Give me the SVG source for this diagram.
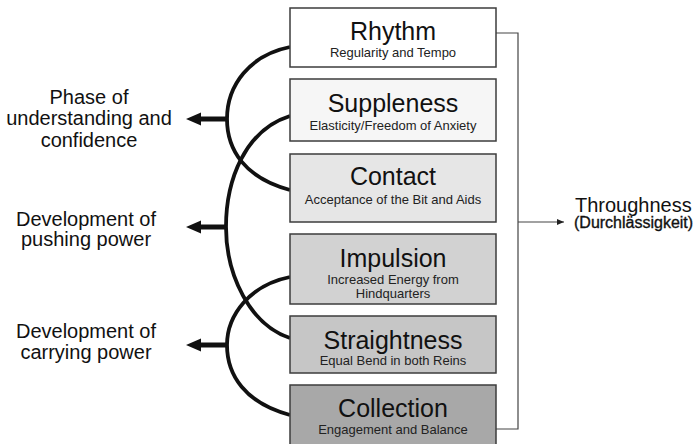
<svg xmlns="http://www.w3.org/2000/svg" width="697" height="444" viewBox="0 0 697 444">
<defs>
<style>
.box{stroke:#3c3c3c;stroke-width:1.5}
.t{font-family:"Liberation Sans",Arial,sans-serif;font-size:25px;fill:#111;text-anchor:middle}
.s{font-family:"Liberation Sans",Arial,sans-serif;font-size:13px;fill:#222;text-anchor:middle}
.l{font-family:"Liberation Sans",Arial,sans-serif;font-size:20px;fill:#111;text-anchor:middle}
.arc{fill:none;stroke:#111;stroke-width:3.8}
.shaft{fill:none;stroke:#111;stroke-width:5}
.thin{fill:none;stroke:#444;stroke-width:1.2}
</style>
<marker id="small" viewBox="0 0 7 6" refX="7" refY="3" markerWidth="7" markerHeight="6" markerUnits="userSpaceOnUse" orient="auto">
<path d="M0,0 L7,3 L0,6 Z" fill="#222"/>
</marker>
</defs>
<rect width="697" height="444" fill="#ffffff"/>

<g id="connectors">
<path class="arc" d="M290,47 C250,55 227,85 227,119 C227,150 245,178 290,190"/>
<path class="arc" d="M290,116 C245,130 226,180 226,227 C226,275 250,325 290,338"/>
<path class="arc" d="M290,277 C250,285 227,315 227,345 C227,375 245,403 290,415"/>
<path class="shaft" d="M227,119 L200,119"/>
<path d="M186,119 L201,112.5 L201,125.5 Z" fill="#111"/>
<path class="shaft" d="M226,227 L200,227"/>
<path d="M186,227 L201,220.5 L201,233.5 Z" fill="#111"/>
<path class="shaft" d="M227,345 L200,345"/>
<path d="M186,345 L201,338.5 L201,351.5 Z" fill="#111"/>
<path class="thin" d="M496,33 L518,33 L518,429 L496,429"/>
<path class="thin" d="M518,222 L564,222" marker-end="url(#small)"/>
</g>

<g id="rhythm">
<rect class="box" x="290" y="8" width="206" height="59" fill="#ffffff"/>
<text class="t" x="393" y="40">Rhythm</text>
<text class="s" x="393" y="57">Regularity and Tempo</text>
</g>
<g id="suppleness">
<rect class="box" x="290" y="79" width="206" height="62" fill="#f6f6f6"/>
<text class="t" x="393" y="112">Suppleness</text>
<text class="s" x="393" y="129.5">Elasticity/Freedom of Anxiety</text>
</g>
<g id="contact">
<rect class="box" x="290" y="154" width="206" height="68" fill="#e6e6e6"/>
<text class="t" x="393" y="185">Contact</text>
<text class="s" x="393" y="203.5">Acceptance of the Bit and Aids</text>
</g>
<g id="impulsion">
<rect class="box" x="290" y="234" width="206" height="70" fill="#d2d2d2"/>
<text class="t" x="393" y="266.5">Impulsion</text>
<text class="s" x="393" y="284">Increased Energy from</text>
<text class="s" x="393" y="297.5">Hindquarters</text>
</g>
<g id="straightness">
<rect class="box" x="290" y="316" width="206" height="57" fill="#c6c6c6"/>
<text class="t" x="393" y="348.5">Straightness</text>
<text class="s" x="393" y="365">Equal Bend in both Reins</text>
</g>
<g id="collection">
<rect class="box" x="290" y="385" width="206" height="62" fill="#a8a8a8"/>
<text class="t" x="393" y="417">Collection</text>
<text class="s" x="393" y="434">Engagement and Balance</text>
</g>

<g id="phase-label">
<text class="l" x="89" y="103.5">Phase of</text>
<text class="l" x="89" y="125">understanding and</text>
<text class="l" x="89" y="147">confidence</text>
</g>
<g id="pushing-label">
<text class="l" x="86" y="225.5">Development of</text>
<text class="l" x="86" y="246">pushing power</text>
</g>
<g id="carrying-label">
<text class="l" x="86" y="338">Development of</text>
<text class="l" x="86" y="358.5">carrying power</text>
</g>
<g id="throughness">
<text x="575" y="211.5" font-family="Liberation Sans, Arial, sans-serif" font-size="20" fill="#111">Throughness</text>
<text x="574" y="228" font-family="Liberation Sans, Arial, sans-serif" font-size="16" fill="#111" stroke="#111" stroke-width="0.35">(Durchlässigkeit)</text>
</g>
</svg>
